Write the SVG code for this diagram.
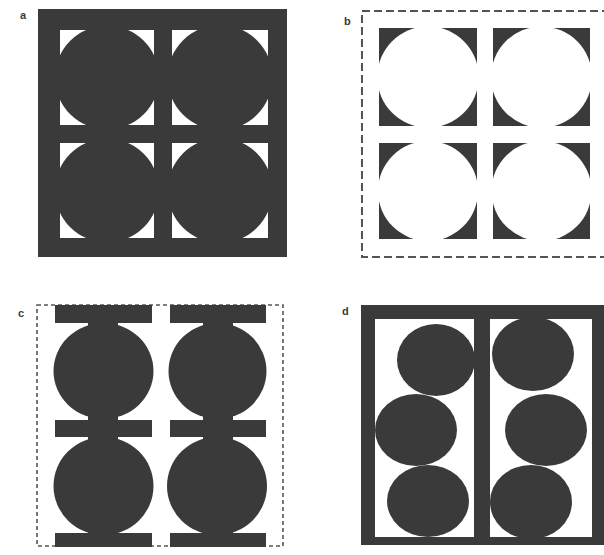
<svg xmlns="http://www.w3.org/2000/svg" width="604" height="555" viewBox="0 0 604 555">
<style>
.dk{fill:#3a3a3a}
.wh{fill:#ffffff}
.lbl{font-family:"Liberation Sans",Arial,sans-serif;font-size:11px;font-weight:bold;fill:#3a3a3a}
.dashB{fill:none;stroke:#555;stroke-width:2;stroke-dasharray:8 4}
.dashC{fill:none;stroke:#555;stroke-width:1.6;stroke-dasharray:4 3}
</style>
<rect width="604" height="555" fill="#ffffff"/>
<g id="panel-a">
<rect class="dk" x="38" y="9" width="249" height="248"/>
<rect class="wh" x="60" y="30" width="94" height="95"/>
<rect class="wh" x="172" y="30" width="96" height="95"/>
<rect class="wh" x="60" y="143" width="94" height="95"/>
<rect class="wh" x="172" y="143" width="96" height="95"/>
<circle class="dk" cx="107" cy="77.5" r="52"/>
<circle class="dk" cx="220" cy="77.5" r="52.5"/>
<circle class="dk" cx="107" cy="190.5" r="52"/>
<circle class="dk" cx="220" cy="190.5" r="52.5"/>
<text class="lbl" x="20" y="19">a</text>
</g>
<g id="panel-b">
<path class="dashB" d="M610,11 H362 V257 H610"/>
<rect class="dk" x="379" y="28" width="98" height="98"/>
<rect class="dk" x="493" y="28" width="97" height="98"/>
<rect class="dk" x="379" y="143" width="98" height="96"/>
<rect class="dk" x="493" y="143" width="97" height="96"/>
<circle class="wh" cx="428" cy="77" r="50.7"/>
<circle class="wh" cx="541.5" cy="77" r="50.5"/>
<circle class="wh" cx="428" cy="191" r="50"/>
<circle class="wh" cx="541.5" cy="191" r="50"/>
<text class="lbl" x="344" y="25">b</text>
</g>
<g id="panel-c">
<rect class="dashC" x="37" y="305" width="246" height="241"/>
<rect class="dk" x="55" y="305" width="97" height="18"/>
<rect class="dk" x="170" y="305" width="96" height="18"/>
<rect class="dk" x="55" y="420" width="97" height="17"/>
<rect class="dk" x="170" y="420" width="96" height="17"/>
<rect class="dk" x="55" y="533" width="97" height="14"/>
<rect class="dk" x="170" y="533" width="96" height="14"/>
<rect class="dk" x="88" y="318" width="30" height="220"/>
<rect class="dk" x="203" y="318" width="30" height="220"/>
<ellipse class="dk" cx="103.5" cy="371" rx="50" ry="48"/>
<ellipse class="dk" cx="217.5" cy="371" rx="49" ry="48"/>
<ellipse class="dk" cx="103.5" cy="486" rx="50" ry="49"/>
<ellipse class="dk" cx="217" cy="486" rx="50" ry="49"/>
<text class="lbl" x="18" y="317">c</text>
</g>
<g id="panel-d">
<rect class="dk" x="361" y="305" width="250" height="240"/>
<rect class="wh" x="375" y="319" width="99" height="218"/>
<rect class="wh" x="490" y="319" width="102" height="218"/>
<ellipse class="dk" cx="436" cy="360" rx="39" ry="36"/>
<ellipse class="dk" cx="416" cy="430" rx="41" ry="36"/>
<ellipse class="dk" cx="428" cy="501" rx="41" ry="36"/>
<ellipse class="dk" cx="533" cy="354" rx="41" ry="37"/>
<ellipse class="dk" cx="546" cy="430" rx="41" ry="36"/>
<ellipse class="dk" cx="531" cy="502" rx="41" ry="37"/>
<text class="lbl" x="342" y="315">d</text>
</g>
</svg>
